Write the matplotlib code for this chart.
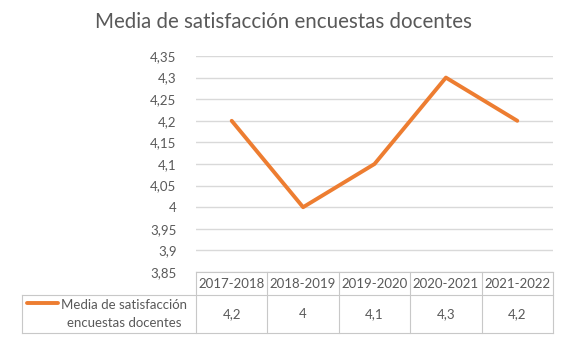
import matplotlib.pyplot as plt
from matplotlib.lines import Line2D
from matplotlib.transforms import blended_transform_factory

# data
years = ['2017-2018', '2018-2019', '2019-2020', '2020-2021', '2021-2022']
media = [4.2, 4.0, 4.1, 4.3, 4.2]
series_name = 'Media de satisfacción\nencuestas docentes'
title = 'Media de satisfacción encuestas docentes'
y_ticks = [3.85, 3.9, 3.95, 4.0, 4.05, 4.1, 4.15, 4.2, 4.25, 4.3, 4.35]

orange = '#ED7D31'
text_grey = '#595959'
grid_grey = '#d9d9d9'
plt.rcParams['font.family'] = ['Lato', 'DejaVu Sans']

W, H = 562, 341
fig = plt.figure(figsize=(W / 100, H / 100), dpi=100)


def fx(px):
    return px / W


def fy(py):
    return 1 - py / H


ax = fig.add_axes([fx(196), fy(272), fx(553) - fx(196), fy(56) - fy(272)])

x = list(range(len(years)))
ax.plot(x, media, color=orange, linewidth=2.8, solid_capstyle='round',
        solid_joinstyle='round', zorder=3)

ax.set_xlim(-0.5, len(years) - 0.5)
ax.set_ylim(3.85, 4.35)
ax.set_yticks(y_ticks)
ax.set_yticklabels([('%g' % v).replace('.', ',') for v in y_ticks])
ax.tick_params(axis='y', length=0, pad=14, labelsize=9.5, labelcolor=text_grey)
ax.set_xticks([])
for s in ax.spines.values():
    s.set_visible(False)
ax.grid(axis='y', color=grid_grey, linewidth=1)
ax.set_axisbelow(True)

fig.text(fx(283), fy(22), title, ha='center', va='center',
         fontsize=14.8, color=text_grey)

# data table under the chart
border = '#c8c8c8'
tr = blended_transform_factory(ax.transData, fig.transFigure)
y_top, y_mid, y_bot = fy(272), fy(295), fy(333)

fig.add_artist(Line2D([-0.5, len(years) - 0.5], [y_top, y_top], transform=tr,
                      color=border, linewidth=0.8))
fig.add_artist(Line2D([fx(22), fx(553)], [y_mid, y_mid],
                      color=border, linewidth=0.8))
fig.add_artist(Line2D([fx(22), fx(553)], [y_bot, y_bot],
                      color=border, linewidth=0.8))
fig.add_artist(Line2D([fx(22), fx(22)], [y_mid, y_bot],
                      color=border, linewidth=0.8))
for i in range(len(years) + 1):
    fig.add_artist(Line2D([i - 0.5, i - 0.5], [y_top, y_bot], transform=tr,
                          color=border, linewidth=0.8))

for i, (yr, v) in enumerate(zip(years, media)):
    fig.text(i, (y_top + y_mid) / 2, yr, transform=tr, ha='center',
             va='center', fontsize=9.5, color=text_grey)
    fig.text(i, (y_mid + y_bot) / 2, ('%g' % v).replace('.', ','),
             transform=tr, ha='center', va='center', fontsize=9.5,
             color=text_grey)

# legend key inside the table
fig.add_artist(Line2D([fx(27), fx(58)], [fy(303), fy(303)], color=orange,
                      linewidth=2.8, solid_capstyle='round'))
fig.text(fx(124), (y_mid + y_bot) / 2, series_name, ha='center', va='center',
         fontsize=9.5, color=text_grey, linespacing=1.65)

fig.savefig('out.png', dpi=100)
